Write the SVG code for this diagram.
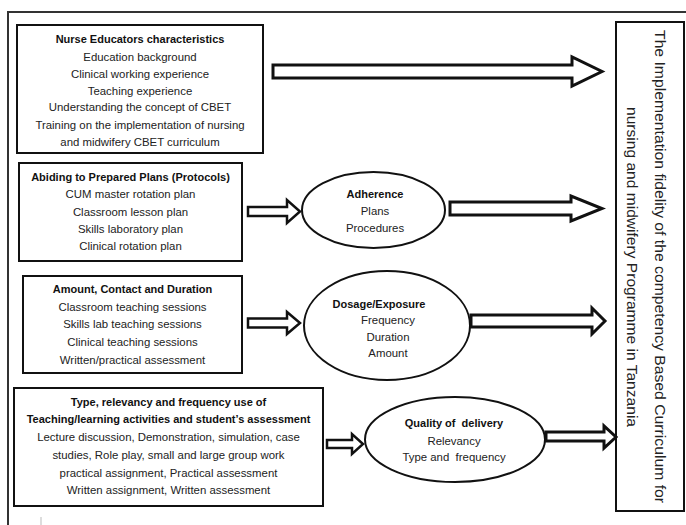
<svg xmlns="http://www.w3.org/2000/svg" width="686" height="525" viewBox="0 0 686 525">
<style>
.box{fill:#fff;stroke:#111;stroke-width:2}
.ell{fill:#fff;stroke:#111;stroke-width:2}
.arr{fill:#fff;stroke:#111;stroke-width:3;stroke-linejoin:miter}
.arrs{fill:#fff;stroke:#111;stroke-width:2.5;stroke-linejoin:miter}
text{font-family:"Liberation Sans",Arial,sans-serif;font-size:11.4px;fill:#222;text-anchor:middle}
.b{font-weight:bold;font-size:11px;fill:#111}
.rot{font-size:14px;text-anchor:middle}
</style>
<rect x="0" y="0" width="686" height="525" fill="#fff"/>
<rect x="8" y="12" width="700" height="540" fill="none" stroke="#333" stroke-width="2"/>
<line x1="41" y1="517" x2="41" y2="525" stroke="#bbb" stroke-width="1"/>

<g id="nurse-educators">
<rect class="box" x="17" y="25" width="246" height="128"/>
<text class="b" x="140" y="43">Nurse Educators characteristics</text>
<text x="140" y="61">Education background</text>
<text x="140" y="78">Clinical working experience</text>
<text x="140" y="95">Teaching experience</text>
<text x="140" y="111">Understanding the concept of CBET</text>
<text x="140" y="129">Training on the implementation of nursing</text>
<text x="140" y="146">and midwifery CBET curriculum</text>
</g>

<g id="abiding-plans">
<rect class="box" x="19" y="163" width="223" height="98"/>
<text class="b" x="130.5" y="181">Abiding to Prepared Plans (Protocols)</text>
<text x="130.5" y="198">CUM master rotation plan</text>
<text x="130.5" y="215.5">Classroom lesson plan</text>
<text x="130.5" y="233">Skills laboratory plan</text>
<text x="130.5" y="250">Clinical rotation plan</text>
</g>

<g id="amount-contact">
<rect class="box" x="23" y="276" width="219" height="97"/>
<text class="b" x="132.5" y="293">Amount, Contact and Duration</text>
<text x="132.5" y="311">Classroom teaching sessions</text>
<text x="132.5" y="328">Skills lab teaching sessions</text>
<text x="132.5" y="346">Clinical teaching sessions</text>
<text x="132.5" y="364">Written/practical assessment</text>
</g>

<g id="type-relevancy">
<rect class="box" x="14" y="388" width="309" height="118"/>
<text class="b" x="168.5" y="406">Type, relevancy and frequency use of</text>
<text class="b" x="168.5" y="423">Teaching/learning activities and student’s assessment</text>
<text x="168.5" y="441">Lecture discussion, Demonstration, simulation, case</text>
<text x="168.5" y="459">studies, Role play, small and large group work</text>
<text x="168.5" y="477">practical assignment, Practical assessment</text>
<text x="168.5" y="494">Written assignment, Written assessment</text>
</g>

<g id="adherence">
<ellipse class="ell" cx="373.5" cy="210" rx="71.5" ry="38"/>
<text class="b" x="375" y="198">Adherence</text>
<text x="375" y="215">Plans</text>
<text x="375" y="232">Procedures</text>
</g>

<g id="dosage">
<ellipse class="ell" cx="387" cy="325.5" rx="83" ry="54.5"/>
<text class="b" x="379" y="308">Dosage/Exposure</text>
<text x="388" y="324">Frequency</text>
<text x="388" y="341">Duration</text>
<text x="388" y="357">Amount</text>
</g>

<g id="quality">
<ellipse class="ell" cx="455" cy="439.5" rx="90" ry="42.5"/>
<text class="b" x="454" y="427" xml:space="preserve">Quality of  delivery</text>
<text x="454" y="445">Relevancy</text>
<text x="454" y="461" xml:space="preserve">Type and  frequency</text>
</g>

<g id="implementation-fidelity">
<rect class="box" x="616" y="22" width="68" height="489"/>
<text class="rot" transform="translate(655,266.5) rotate(90)" textLength="473" lengthAdjust="spacingAndGlyphs">The Implementation fidelity of the competency Based Curriculum for</text>
<text class="rot" transform="translate(627,267) rotate(90)" textLength="320" lengthAdjust="spacingAndGlyphs">nursing and midwifery Programme in Tanzania</text>
</g>

<g id="connectors">
<polygon class="arr" points="273,65 572,65 572,57 602,71.5 572,86 572,78 273,78"/>
<polygon class="arrs" points="248,207 287,207 287,200 300,211.5 287,223 287,216 248,216"/>
<polygon class="arr" points="450,202 571,202 571,196 602,208.5 571,221 571,215 450,215"/>
<polygon class="arrs" points="248,318.5 287,318.5 287,312 300,323 287,334 287,327.5 248,327.5"/>
<polygon class="arr" points="471,315 592,315 592,308 605,321 592,334 592,327 471,327"/>
<polygon class="arrs" points="327,440 352,440 352,434 363,444 352,454 352,448 327,448"/>
<polygon class="arr" points="546,432 604,432 604,426 616,437 604,448 604,441 546,441"/>
</g>
</svg>
